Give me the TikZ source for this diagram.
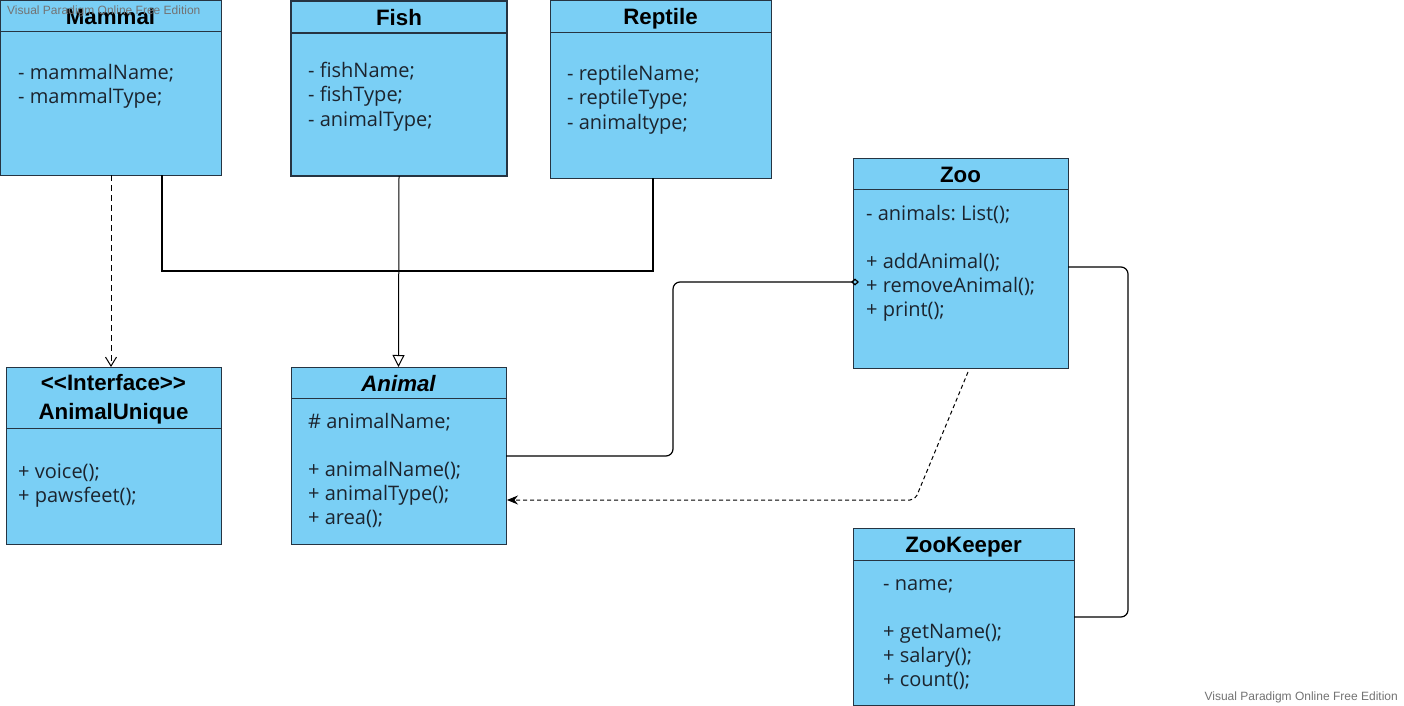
\documentclass[tikz,border=0pt]{standalone}
\usepackage{fontspec}
\setmainfont{Open Sans}
\newfontfamily\titlefont{Liberation Sans}
\usetikzlibrary{arrows.meta,calc}
\definecolor{boxfill}{RGB}{122,207,245}
\definecolor{boxline}{RGB}{38,52,66}
\definecolor{textc}{RGB}{28,36,46}
\definecolor{wm}{RGB}{115,115,115}
\frenchspacing
\begin{document}
\begin{tikzpicture}[x=1pt,y=-1pt,
  classbox/.style={draw=boxline, fill=boxfill, line width=1pt, inner sep=0pt, outer sep=0pt, anchor=north west, rectangle},
  headline/.style={draw=boxline, line width=1pt},
  ctitle/.style={font=\titlefont\bfseries\fontsize{22.3}{24}\selectfont, anchor=base, inner sep=0pt, text=black},
  attr/.style={font=\fontsize{20}{24}\selectfont, anchor=base west, inner sep=0pt, text=textc},
  conn/.style={line width=1.2pt, draw=black},
  wmark/.style={font=\titlefont\fontsize{12}{14}\selectfont, text=wm, inner sep=0pt}
]
\useasboundingbox (0,0) rectangle (1404,706);
\fill[white] (0,0) rectangle (1404,706);

% ---- class boxes ----
\node[classbox, minimum width=220.5pt, minimum height=174pt] (mammal) at (0.5,1) {};
\node[classbox, line width=2pt, minimum width=216pt, minimum height=175pt] (fish) at (291,1) {};
\node[classbox, minimum width=221pt, minimum height=177pt] (reptile) at (550,1) {};
\node[classbox, minimum width=215pt, minimum height=210pt] (zoo) at (853,158) {};
\node[classbox, minimum width=215pt, minimum height=177pt] (au) at (6,367) {};
\node[classbox, minimum width=215pt, minimum height=177pt] (animal) at (291,367) {};
\node[classbox, minimum width=221pt, minimum height=177pt] (keeper) at (853,528) {};

% ---- header separators ----
\draw[headline] (mammal.west |- 0,32) -- (mammal.east |- 0,32);
\draw[headline, line width=2pt] (fish.west |- 0,33) -- (fish.east |- 0,33);
\draw[headline] (reptile.west |- 0,33) -- (reptile.east |- 0,33);
\draw[headline] (zoo.west |- 0,189) -- (zoo.east |- 0,189);
\draw[headline] (au.west |- 0,428) -- (au.east |- 0,428);
\draw[headline] (animal.west |- 0,398) -- (animal.east |- 0,398);
\draw[headline] (keeper.west |- 0,560) -- (keeper.east |- 0,560);

% ---- titles ----
\node[ctitle] (tmammal) at (110.5,25) {Mammal};
\node[ctitle] (tfish) at (399,26) {Fish};
\node[ctitle] (treptile) at (660.5,25) {Reptile};
\node[ctitle] (tzoo) at (960.5,182) {Zoo};
\node[ctitle] (tau1) at (113.5,390) {<{}<Interface>{}>};
\node[ctitle] (tau2) at (113.5,419) {AnimalUnique};
\node[ctitle, font=\titlefont\bfseries\itshape\fontsize{22.3}{24}\selectfont] (tanimal) at (398.5,391) {Animal};
\node[ctitle] (tkeeper) at (963.5,552) {ZooKeeper};

% ---- attributes / operations ----
\node[attr] (m1) at (18,80) {- mammalName;};
\node[attr] (m2) at (18,104) {- mammalType;};

\node[attr] (f1) at (308,78) {- fishName;};
\node[attr] (f2) at (308,102) {- fishType;};
\node[attr] (f3) at (308,126) {- animalType;};

\node[attr] (r1) at (567,81) {- reptileName;};
\node[attr] (r2) at (567,105) {- reptileType;};
\node[attr] (r3) at (567,129) {- animaltype;};

\node[attr] (z1) at (866,220) {- animals: List();};
\node[attr] (z2) at (866,268) {+ addAnimal();};
\node[attr] (z3) at (866,292) {+ removeAnimal();};
\node[attr] (z4) at (866,316) {+ print();};

\node[attr] (u1) at (18,478) {+ voice();};
\node[attr] (u2) at (18,502) {+ pawsfeet();};

\node[attr] (a1) at (308,428) {\# animalName;};
\node[attr] (a2) at (308,476) {+ animalName();};
\node[attr] (a3) at (308,500) {+ animalType();};
\node[attr] (a4) at (308,524) {+ area();};

\node[attr] (k1) at (883,590) {- name;};
\node[attr] (k2) at (883,638) {+ getName();};
\node[attr] (k3) at (883,662) {+ salary();};
\node[attr] (k4) at (883,686) {+ count();};

% ---- connectors ----
% Mammal realizes AnimalUnique (dashed, open arrow)
\draw[conn, line width=1pt, dash pattern=on 6pt off 4pt, -{Straight Barb[length=9pt,width=11pt]}]
  ([xshift=-2.5pt]au.north |- mammal.south) -- ([xshift=-2.5pt]au.north);

% Mammal / Reptile joint line
\coordinate (mj1) at (162,271);
\coordinate (mj2) at (653,271);
\draw[conn, line width=1.5pt] (mammal.south -| mj1) -- (mj1) -- (mj2) -- (reptile.south -| mj2);

% Fish generalises Animal
\draw[conn, line width=1pt, -{Triangle[open,length=12pt,width=12pt]}] (fish.south) -- (animal.north);

% Animal aggregated in Zoo
\coordinate (ag1) at (673,456);
\coordinate (ag2) at (673,282);
\draw[conn, rounded corners=7pt, -{Diamond[open,length=8pt,width=7pt]}]
  (animal.east |- ag1) -- (ag1) -- (ag2) -- ([xshift=6pt]zoo.west |- ag2);

% Zoo depends on Animal (dashed)
\coordinate (dp0) at (968,372);
\coordinate (dp1) at (915,500);
\draw[conn, line width=1pt, dash pattern=on 4pt off 3pt, rounded corners=5pt, -{Stealth[length=11pt,width=9pt]}]
  (dp0) -- (dp1) -- ([xshift=1pt]animal.east |- dp1);

% Zoo associated with ZooKeeper
\coordinate (kz1) at (1128,267);
\coordinate (kz2) at (1128,617);
\draw[conn, rounded corners=7pt] (zoo.east |- kz1) -- (kz1) -- (kz2) -- (keeper.east |- kz2);

% ---- watermarks ----
\node[wmark, anchor=west] (wm1) at (7,11) {Visual Paradigm Online Free Edition};
\node[wmark, anchor=east] (wm2) at (1398,697) {Visual Paradigm Online Free Edition};
\end{tikzpicture}
\end{document}
